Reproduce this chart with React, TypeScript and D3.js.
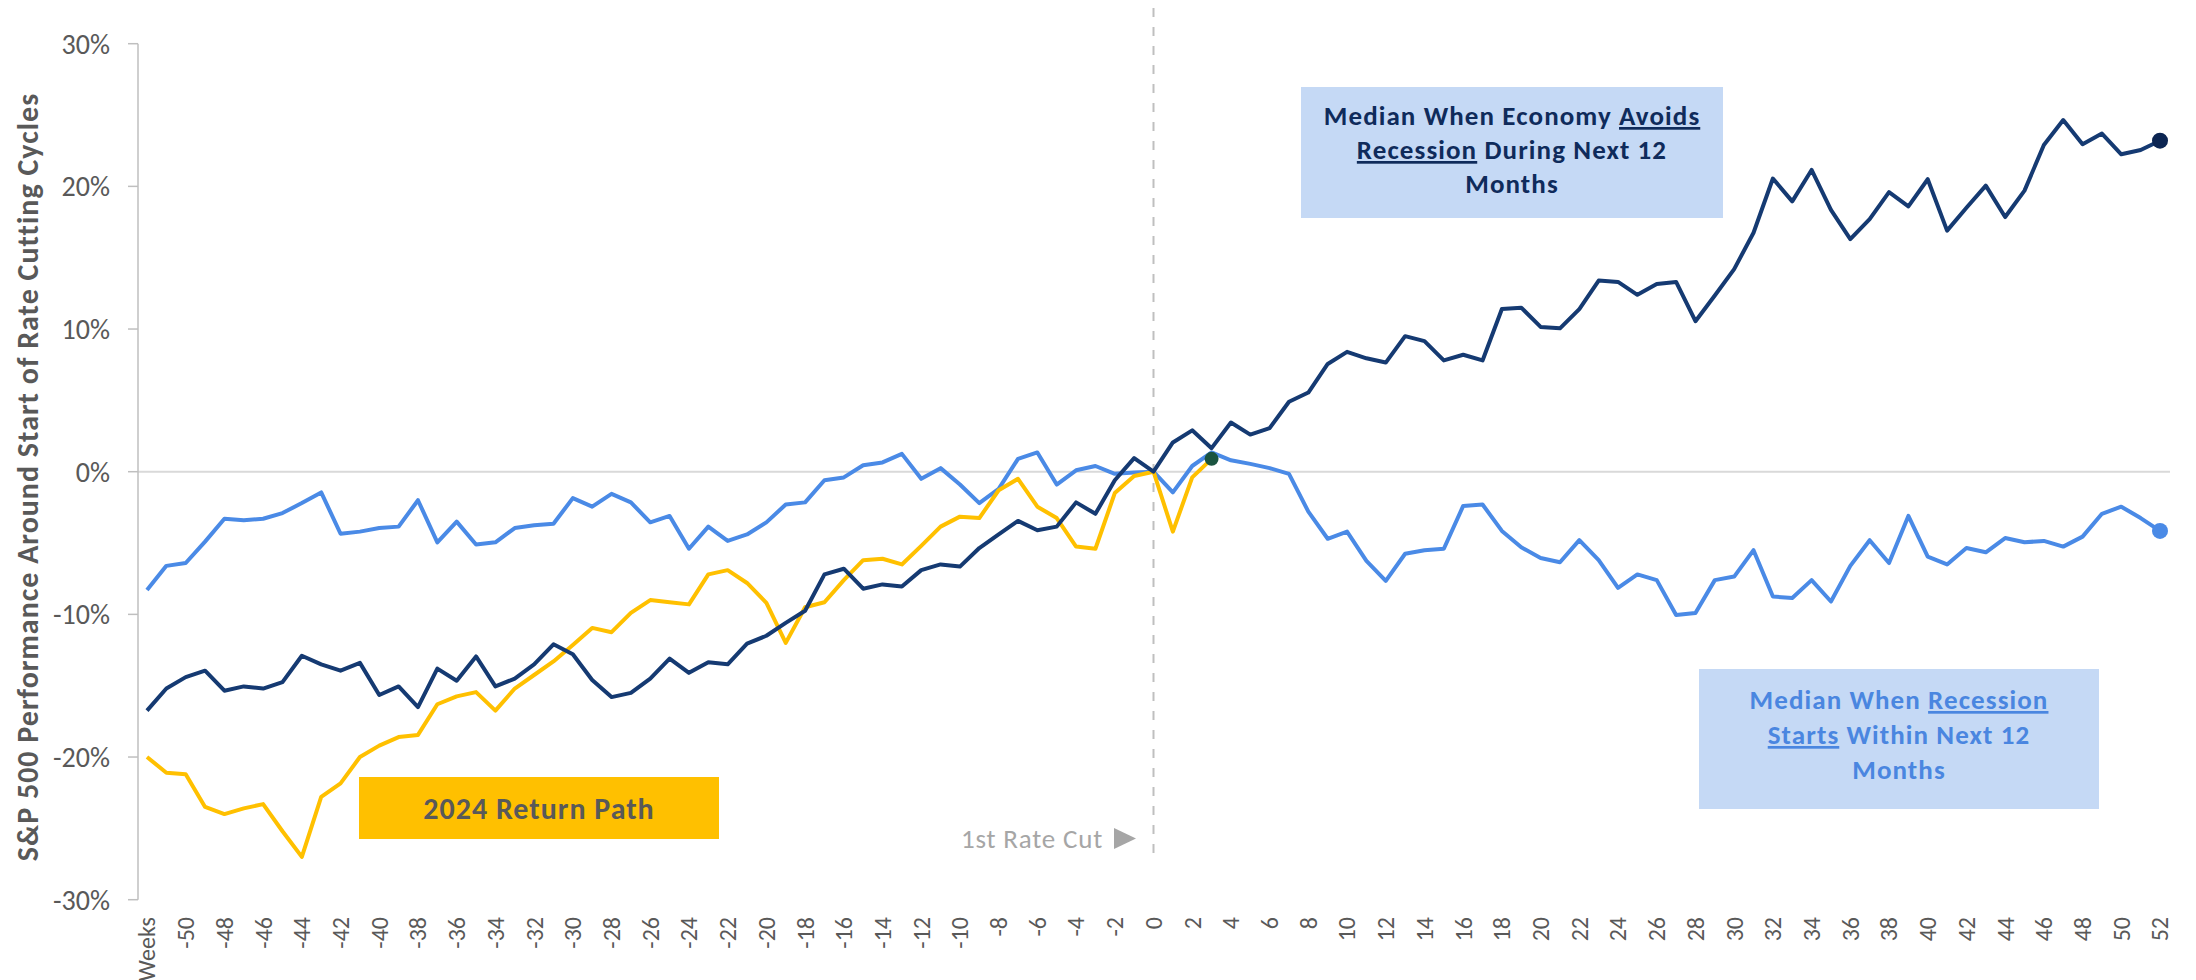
import React from "react";
import * as d3 from "d3";

// ---------- DATA ----------
const weeks: number[] = d3.range(-52, 53);

const avoidRecession: number[] = [
  -16.75, -15.2, -14.4, -13.95, -15.35, -15.05, -15.2, -14.75, -12.9, -13.5,
  -13.95, -13.4, -15.65, -15.05, -16.5, -13.8, -14.65, -12.95, -15.05, -14.5,
  -13.5, -12.1, -12.8, -14.6, -15.8, -15.5, -14.5, -13.1, -14.1, -13.35,
  -13.5, -12.05, -11.5, -10.6, -9.75, -7.2, -6.8, -8.2, -7.9, -8.05,
  -6.9, -6.5, -6.65, -5.35, -4.4, -3.45, -4.1, -3.85, -2.15, -2.95,
  -0.6, 0.95, 0,
  2.05, 2.9, 1.65, 3.45, 2.6, 3.05, 4.9, 5.55, 7.55, 8.4,
  7.95, 7.65, 9.5, 9.15, 7.8, 8.2, 7.8, 11.4, 11.5, 10.15,
  10.05, 11.4, 13.4, 13.3, 12.4, 13.15, 13.3, 10.55, 12.35, 14.2,
  16.75, 20.55, 18.95, 21.15, 18.35, 16.3, 17.7, 19.6, 18.6, 20.5,
  16.9, 18.5, 20.05, 17.85, 19.7, 22.9, 24.65, 22.95, 23.7, 22.25,
  22.55, 23.2,
];

const recessionStarts: number[] = [
  -8.3, -6.6, -6.4, -4.9, -3.3, -3.4, -3.3, -2.9, -2.2, -1.45,
  -4.35, -4.2, -3.95, -3.85, -2.0, -4.95, -3.5, -5.1, -4.95, -3.95,
  -3.75, -3.65, -1.85, -2.45, -1.55, -2.15, -3.55, -3.1, -5.4, -3.85,
  -4.85, -4.4, -3.55, -2.3, -2.15, -0.6, -0.4, 0.45, 0.65, 1.25,
  -0.5, 0.25, -0.9, -2.2, -1.2, 0.9, 1.35, -0.9, 0.1, 0.4,
  -0.15, -0.05, 0,
  -1.45, 0.4, 1.35, 0.8, 0.55, 0.25, -0.15, -2.8, -4.7, -4.2,
  -6.25, -7.65, -5.75, -5.5, -5.4, -2.4, -2.3, -4.15, -5.3, -6.05,
  -6.35, -4.8, -6.2, -8.15, -7.2, -7.6, -10.05, -9.9, -7.6, -7.35,
  -5.5, -8.75, -8.85, -7.6, -9.1, -6.6, -4.8, -6.4, -3.1, -5.95,
  -6.5, -5.35, -5.65, -4.65, -4.95, -4.85, -5.25, -4.55, -2.95, -2.45,
  -3.25, -4.15,
];

// 2024 path: weeks -52 .. 3
const path2024: number[] = [
  -20.0, -21.1, -21.2, -23.5, -24.0, -23.6, -23.3, -25.2, -27.0, -22.8,
  -21.85, -20.0, -19.2, -18.6, -18.45, -16.3, -15.75, -15.45, -16.75, -15.2,
  -14.25, -13.3, -12.15, -10.95, -11.25, -9.9, -9.0, -9.15, -9.3, -7.2,
  -6.9, -7.8, -9.2, -12.0, -9.5, -9.15, -7.6, -6.2, -6.1, -6.5,
  -5.2, -3.85, -3.15, -3.25, -1.3, -0.5, -2.45, -3.25, -5.25, -5.4,
  -1.5, -0.3, 0, -4.2, -0.4, 0.9,
];

const yTicks: number[] = [-30, -20, -10, 0, 10, 20, 30];
const xTickWeeks: number[] = d3.range(-52, 53, 2);
const xTickLabels: string[] = xTickWeeks.map((w) => (w === -52 ? "Weeks" : String(w)));

const yAxisTitle = "S&P 500 Performance Around Start of Rate Cutting Cycles";

// ---------- STYLE ----------
const FONT = "Carlito, Calibri, Lato, sans-serif";
const NAVY = "#153a72";
const NAVY_DOT = "#0c2552";
const BLUE = "#4a8ae6";
const YELLOW = "#FFC000";
const GREEN_DOT = "#1a5440";
const BOX_FILL = "#c5d9f5";
const AXIS_GRAY = "#bfbfbf";
const LABEL_GRAY = "#595959";

export default function App() {
  const W = 2196;
  const H = 980;
  const x = d3.scaleLinear().domain([-52, 52]).range([147, 2160]);
  const y = d3.scaleLinear().domain([-30, 30]).range([899.7, 43.7]);
  const axisLeft = 138;
  const axisRight = 2170;

  const line = d3
    .line<[number, number]>()
    .x((d) => x(d[0]))
    .y((d) => y(d[1]));

  const navyPts: [number, number][] = weeks.map((w, i) => [w, avoidRecession[i]]);
  const bluePts: [number, number][] = weeks.map((w, i) => [w, recessionStarts[i]]);
  const yellowPts: [number, number][] = path2024.map((v, i) => [weeks[i], v]);

  const lastNavy = navyPts[navyPts.length - 1];
  const lastBlue = bluePts[bluePts.length - 1];
  const lastYellow = yellowPts[yellowPts.length - 1];

  return (
    <svg
      width={W}
      height={H}
      style={{ position: "absolute", left: 0, top: 0, background: "#fff" }}
      fontFamily={FONT}
    >
      {/* zero line */}
      <line x1={axisLeft} x2={axisRight} y1={y(0)} y2={y(0)} stroke="#d9d9d9" strokeWidth={2} />
      {/* y axis */}
      <line x1={axisLeft} x2={axisLeft} y1={y(30)} y2={y(-30)} stroke={AXIS_GRAY} strokeWidth={1.5} />
      {yTicks.map((t) => (
        <g key={t}>
          <line x1={128} x2={axisLeft} y1={y(t)} y2={y(t)} stroke={AXIS_GRAY} strokeWidth={1.5} />
          <text x={110} y={y(t)} dy="0.35em" textAnchor="end" fontSize={28} fill={LABEL_GRAY}>
            {`${t}%`}
          </text>
        </g>
      ))}
      {/* y axis title */}
      <text
        transform={`translate(38, ${477}) rotate(-90)`}
        textAnchor="middle"
        fontSize={30}
        letterSpacing={1}
        fontWeight="bold"
        fill={LABEL_GRAY}
      >
        {yAxisTitle}
      </text>
      {/* x tick labels */}
      {xTickWeeks.map((w, i) => (
        <text
          key={w}
          transform={`translate(${x(w)}, 917) rotate(-90)`}
          textAnchor="end"
          dy="0.35em"
          fontSize={24}
          fill={LABEL_GRAY}
        >
          {xTickLabels[i]}
        </text>
      ))}

      {/* vertical dashed line at first cut */}
      <line x1={x(0)} x2={x(0)} y1={8} y2={857} stroke={AXIS_GRAY} strokeWidth={2} strokeDasharray="9,10" />
      <text x={1103} y={848} textAnchor="end" fontSize={27} letterSpacing={0.8} fill="#a6a6a6">
        1st Rate Cut
      </text>
      <path d="M1114,828 L1136,838.5 L1114,849 Z" fill="#a6a6a6" />

      {/* series */}
      <path d={line(bluePts) || ""} fill="none" stroke={BLUE} strokeWidth={4} strokeLinejoin="round" />
      <path d={line(yellowPts) || ""} fill="none" stroke={YELLOW} strokeWidth={4} strokeLinejoin="round" />
      <path d={line(navyPts) || ""} fill="none" stroke={NAVY} strokeWidth={4} strokeLinejoin="round" />

      <circle cx={x(lastYellow[0])} cy={y(lastYellow[1])} r={7} fill={GREEN_DOT} />
      <circle cx={x(lastNavy[0])} cy={y(lastNavy[1])} r={8} fill={NAVY_DOT} />
      <circle cx={x(lastBlue[0])} cy={y(lastBlue[1])} r={8} fill={BLUE} />

      {/* 2024 label box */}
      <rect x={359} y={777} width={360} height={62} fill={YELLOW} />
      <text x={539} y={819} textAnchor="middle" fontSize={30} letterSpacing={1} fontWeight="bold" fill={LABEL_GRAY}>
        2024 Return Path
      </text>

      {/* Avoids recession box */}
      <rect x={1301} y={87} width={422} height={131} fill={BOX_FILL} />
      <g fontSize={27} letterSpacing={1.1} fontWeight="bold" fill="#0f2b5b" textAnchor="middle">
        <text x={1512} y={125}>
          Median When Economy <tspan textDecoration="underline">Avoids</tspan>
        </text>
        <text x={1512} y={159}>
          <tspan textDecoration="underline">Recession</tspan> During Next 12
        </text>
        <text x={1512} y={193}>Months</text>
      </g>

      {/* Recession starts box */}
      <rect x={1699} y={669} width={400} height={140} fill={BOX_FILL} />
      <g fontSize={27} letterSpacing={1.1} fontWeight="bold" fill="#4a86e0" textAnchor="middle">
        <text x={1899} y={709}>
          Median When <tspan textDecoration="underline">Recession</tspan>
        </text>
        <text x={1899} y={744}>
          <tspan textDecoration="underline">Starts</tspan> Within Next 12
        </text>
        <text x={1899} y={779}>Months</text>
      </g>
    </svg>
  );
}
